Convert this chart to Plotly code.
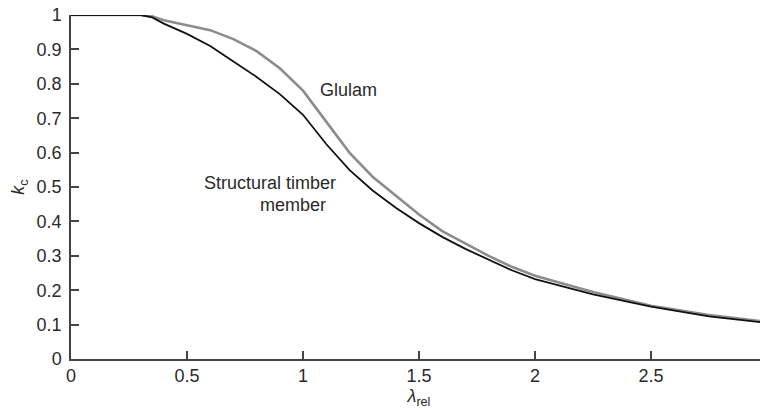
import plotly.graph_objects as go

# relative slenderness and buckling factor
lam_rel = [0, 0.3, 0.35, 0.4, 0.5, 0.6, 0.7, 0.8, 0.9, 1.0, 1.1, 1.2, 1.3,
           1.4, 1.5, 1.6, 1.7, 1.8, 1.9, 2.0, 2.25, 2.5, 2.75, 3.0]
kc_timber = [1, 1, 0.993, 0.975, 0.945, 0.91, 0.865, 0.82, 0.77, 0.71, 0.625,
             0.55, 0.49, 0.44, 0.395, 0.355, 0.32, 0.29, 0.258, 0.232, 0.188,
             0.152, 0.124, 0.105]
kc_glulam = [1, 1, 0.996, 0.985, 0.97, 0.956, 0.93, 0.895, 0.845, 0.78, 0.69,
             0.6, 0.53, 0.475, 0.42, 0.372, 0.335, 0.3, 0.268, 0.242, 0.195,
             0.155, 0.128, 0.108]

x_ticks = [0, 0.5, 1, 1.5, 2, 2.5, 3]
x_labels = ["0", "0.5", "1", "1.5", "2", "2.5", "3"]
y_ticks = [0, 0.1, 0.2, 0.3, 0.4, 0.5, 0.6, 0.7, 0.8, 0.9, 1]
y_labels = ["0", "0.1", "0.2", "0.3", "0.4", "0.5", "0.6", "0.7", "0.8", "0.9", "1"]

axis_col = "#444444"
font = dict(family="Liberation Sans, Arial, sans-serif", size=18, color="#2a2a2a")

fig = go.Figure()
fig.add_trace(go.Scatter(x=lam_rel, y=kc_glulam, mode="lines",
                         line=dict(color="#8c8c8c", width=2.6), name="Glulam"))
fig.add_trace(go.Scatter(x=lam_rel, y=kc_timber, mode="lines",
                         line=dict(color="#111111", width=1.8),
                         name="Structural timber member"))

fig.add_annotation(x=1.194, y=0.782, text="Glulam", showarrow=False, font=font)
fig.add_annotation(x=0.858, y=0.512, text="Structural timber", showarrow=False, font=font)
fig.add_annotation(x=0.957, y=0.448, text="member", showarrow=False, font=font)

# page body has an 8px default margin, margins below account for it
fig.update_layout(
    width=768, height=411,
    margin=dict(l=63, r=9, t=7, b=60),
    paper_bgcolor="white", plot_bgcolor="white",
    showlegend=False,
    font=font,
    xaxis=dict(
        range=[0, 3], tickvals=x_ticks, ticktext=x_labels,
        showgrid=False, zeroline=False, automargin=False,
        showline=True, linecolor=axis_col, linewidth=1.5,
        ticks="inside", ticklen=8, tickcolor=axis_col, tickwidth=1.5,
        ticklabeloverflow="allow",
        title=dict(text="<i>λ</i><sub>rel</sub>", standoff=0, font=font),
    ),
    yaxis=dict(
        range=[0, 1], tickvals=y_ticks, ticktext=y_labels,
        showgrid=False, zeroline=False, automargin=False,
        showline=True, linecolor=axis_col, linewidth=1.5,
        ticks="inside", ticklen=8, tickcolor=axis_col, tickwidth=1.5,
        ticklabelstandoff=4, ticklabeloverflow="allow",
        title=dict(text="<i>k</i><sub>c</sub>", standoff=21, font=font),
    ),
)

fig.write_html("out.html")
